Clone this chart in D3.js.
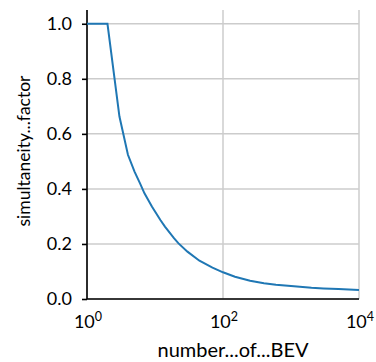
<!DOCTYPE html>
<html>
<head>
<meta charset="utf-8">
<script src="https://cdn.jsdelivr.net/npm/d3@7/dist/d3.min.js"></script>
<style>
  html, body { margin: 0; padding: 0; background: #fff; }
  svg { display: block; font-family: Lato, "Open Sans", sans-serif; }
</style>
</head>
<body>
<svg id="chart" width="376" height="362"></svg>
<script>
// Number of battery electric vehicles (log axis)
const nBev = [1, 2, 3, 4, 5, 6, 7, 9, 12, 14, 19, 22, 30, 45, 70, 100, 150, 250, 400, 600, 1000, 2000, 3000, 5000, 10000];
// Simultaneity factor for each fleet size
const simFactor = [1.0, 1.0, 0.663, 0.524, 0.463, 0.421, 0.384, 0.336, 0.287, 0.263, 0.221, 0.203, 0.172, 0.139, 0.114, 0.097, 0.081, 0.066, 0.057, 0.052, 0.047, 0.041, 0.0385, 0.036, 0.033];

const xTickExps = [0, 2, 4];
const yTicks = [0.0, 0.2, 0.4, 0.6, 0.8, 1.0];
const xLabel = "number...of...BEV";
const yLabel = "simultaneity...factor";

const svg = d3.select("#chart");
const plotLeft = 87, plotRight = 359, plotTop = 10, plotBottom = 299;

const x = d3.scaleLog().domain([1, 1e4]).range([plotLeft, plotRight]);
const y = d3.scaleLinear().domain([0, 1.05]).range([plotBottom, plotTop]);

const gridColor = "#cccccc";
const tickFont = 18;

// grid lines
svg.append("g").selectAll("line").data(yTicks).join("line")
  .attr("x1", plotLeft).attr("x2", plotRight)
  .attr("y1", d => y(d)).attr("y2", d => y(d))
  .attr("stroke", gridColor).attr("stroke-width", 1.5);
svg.append("g").selectAll("line").data(xTickExps).join("line")
  .attr("x1", d => x(Math.pow(10, d))).attr("x2", d => x(Math.pow(10, d)))
  .attr("y1", plotTop).attr("y2", plotBottom)
  .attr("stroke", gridColor).attr("stroke-width", 1.5);

// y axis
const yAxis = d3.axisLeft(y).tickValues(yTicks).tickFormat(d3.format(".1f"))
  .tickSize(5).tickPadding(10);
const gy = svg.append("g").attr("transform", `translate(${plotLeft},0)`).call(yAxis);
gy.select(".domain").attr("stroke", "#000").attr("stroke-width", 1.6)
  .attr("d", `M0,${plotTop}V${plotBottom}`);
gy.selectAll(".tick line").attr("stroke", "#000").attr("stroke-width", 1.6);
gy.selectAll(".tick text").attr("font-size", tickFont).attr("fill", "#000")
  .attr("font-family", "Lato, sans-serif");

// x axis
const xAxis = d3.axisBottom(x).tickValues(xTickExps.map(e => Math.pow(10, e)))
  .tickSize(0).tickFormat("");
const gx = svg.append("g").attr("transform", `translate(0,${plotBottom})`).call(xAxis);
gx.select(".domain").attr("stroke", "#000").attr("stroke-width", 1.6)
  .attr("d", `M${plotLeft},0H${plotRight}`);

// power-of-ten tick labels
const xt = svg.append("g").selectAll("text").data(xTickExps).join("text")
  .attr("x", d => x(Math.pow(10, d)) + 1)
  .attr("y", 328)
  .attr("text-anchor", "middle")
  .attr("font-size", tickFont)
  .attr("fill", "#000");
xt.append("tspan").text("10");
xt.append("tspan").attr("dy", -7).attr("font-size", 12.5).text(d => d);

// curve
const line = d3.line().x((d, i) => x(nBev[i])).y(d => y(d));
svg.append("path").datum(simFactor)
  .attr("d", line)
  .attr("fill", "none")
  .attr("stroke", "#1f77b4")
  .attr("stroke-width", 2);

// axis titles
svg.append("text").attr("x", 233).attr("y", 357)
  .attr("text-anchor", "middle").attr("font-size", 20).attr("fill", "#000")
  .text(xLabel);
svg.append("text")
  .attr("transform", "translate(30,151) rotate(-90)")
  .attr("text-anchor", "middle").attr("font-size", 17.5).attr("fill", "#000")
  .text(yLabel);
</script>
</body>
</html>
